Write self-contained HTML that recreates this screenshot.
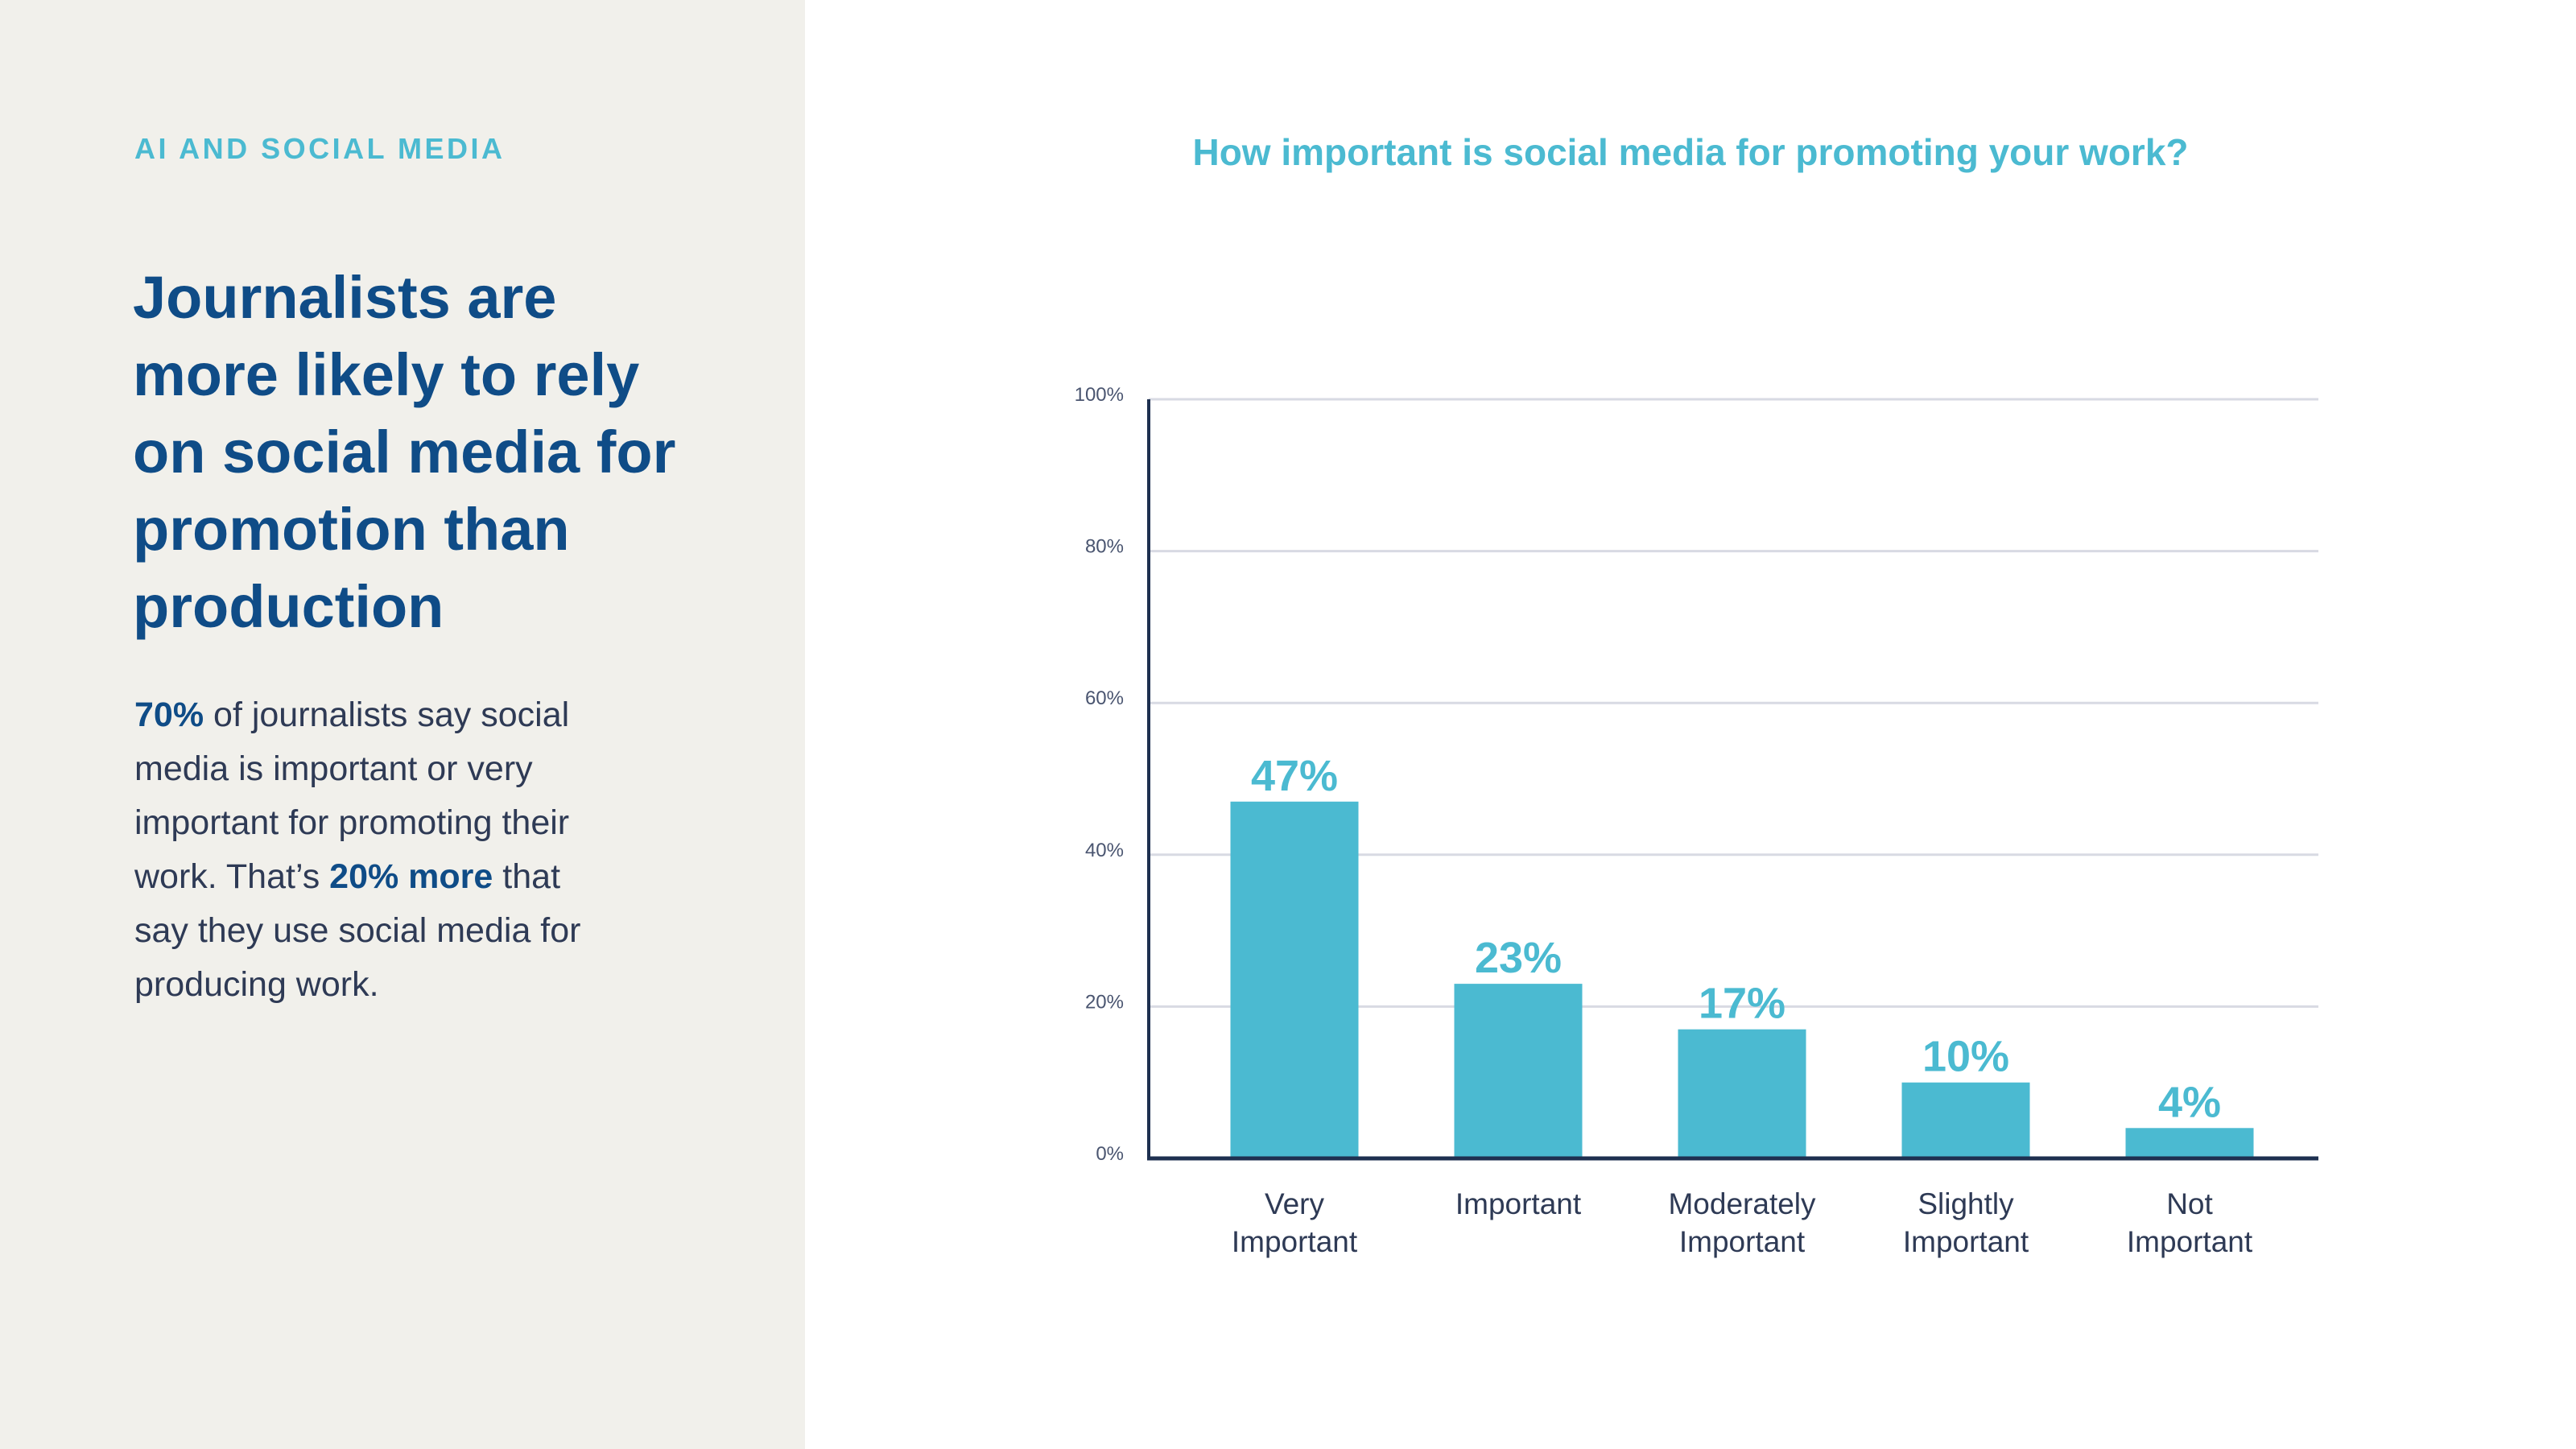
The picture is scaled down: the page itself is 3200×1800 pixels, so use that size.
<!DOCTYPE html>
<html><head><meta charset="utf-8"><style>
body{margin:0;width:3200px;height:1800px;background:#fff;font-family:"Liberation Sans",sans-serif;position:relative;overflow:hidden}
#left{position:absolute;left:0;top:0;width:1000px;height:1800px;background:#f1f0eb}
.kicker{position:absolute;left:167px;top:164px;font-size:36px;letter-spacing:3.5px;color:#4bbad1;font-weight:bold}
h1{position:absolute;left:165px;top:322px;margin:0;font-size:74px;line-height:96px;color:#0f4c87;font-weight:bold;white-space:nowrap}
.body{position:absolute;left:167px;top:855px;font-size:43px;line-height:67px;color:#2e3a55;white-space:nowrap}
.body b{color:#0f4c87}
.title{position:absolute;left:1000px;width:2200px;text-align:center;top:162px;font-size:46px;font-weight:bold;color:#4bbad1}
</style></head><body>
<div id="left">
<div class="kicker">AI AND SOCIAL MEDIA</div>
<h1>Journalists are<br>more likely to rely<br>on social media for<br>promotion than<br>production</h1>
<div class="body"><b>70%</b> of journalists say social<br>media is important or very<br>important for promoting their<br>work. That’s <b>20% more</b> that<br>say they use social media for<br>producing work.</div>
</div>
<div class="title">How important is social media for promoting your work?</div>
<svg id="chart" width="3200" height="1800" style="position:absolute;left:0;top:0"></svg>
<script>
const categories=[["Very","Important"],["Important"],["Moderately","Important"],["Slightly","Important"],["Not","Important"]];
const values=[47,23,17,10,4];
const valueLabels=["47%","23%","17%","10%","4%"];
const ticks=[0,20,40,60,80,100];
const svg=document.getElementById('chart');
const NS='http://www.w3.org/2000/svg';
const x0=1427,x1=2880,yTop=496,yBot=1439,step=278,firstC=1608,bw=159;
const y=v=>yBot-(v/100)*(yBot-yTop);
const xc=i=>firstC+i*step;
function mk(t,a){const e=document.createElementNS(NS,t);for(const k in a)e.setAttribute(k,a[k]);svg.appendChild(e);return e;}
ticks.forEach(t=>{
 if(t>0){const g=mk('line',{x1:x0,x2:x1,y1:y(t),y2:y(t),stroke:'#d8dae3','stroke-width':3});
 
 }
 const l=mk('text',{x:1396,y:y(t)+2,'text-anchor':'end','font-size':24,fill:'#4a5570','font-family':'Liberation Sans, sans-serif'});
 l.textContent=t+'%';
 
 
});
values.forEach((v,i)=>{
 const r=mk('rect',{x:xc(i)-bw/2,y:y(v),width:bw,height:yBot-y(v),fill:'#4bbad1'});
 
 
 const t=mk('text',{x:xc(i),y:y(v)-14,'text-anchor':'middle','font-size':54,'font-weight':'bold',fill:'#4bbad1','font-family':'Liberation Sans, sans-serif'});
 t.textContent=valueLabels[i];
 
 
 categories[i].forEach((ln,j)=>{
  const c=mk('text',{x:xc(i),y:1508+j*47,'text-anchor':'middle','font-size':37,fill:'#2e3a55','font-family':'Liberation Sans, sans-serif'});
  c.textContent=ln;
  
  
 });
});
const ax=mk('line',{x1:x0,x2:x0,y1:yTop,y2:yBot+2,stroke:'#1e3050','stroke-width':4});


const bx=mk('line',{x1:x0-2,x2:x1,y1:yBot,y2:yBot,stroke:'#1e3050','stroke-width':5});


</script>
</body></html>
